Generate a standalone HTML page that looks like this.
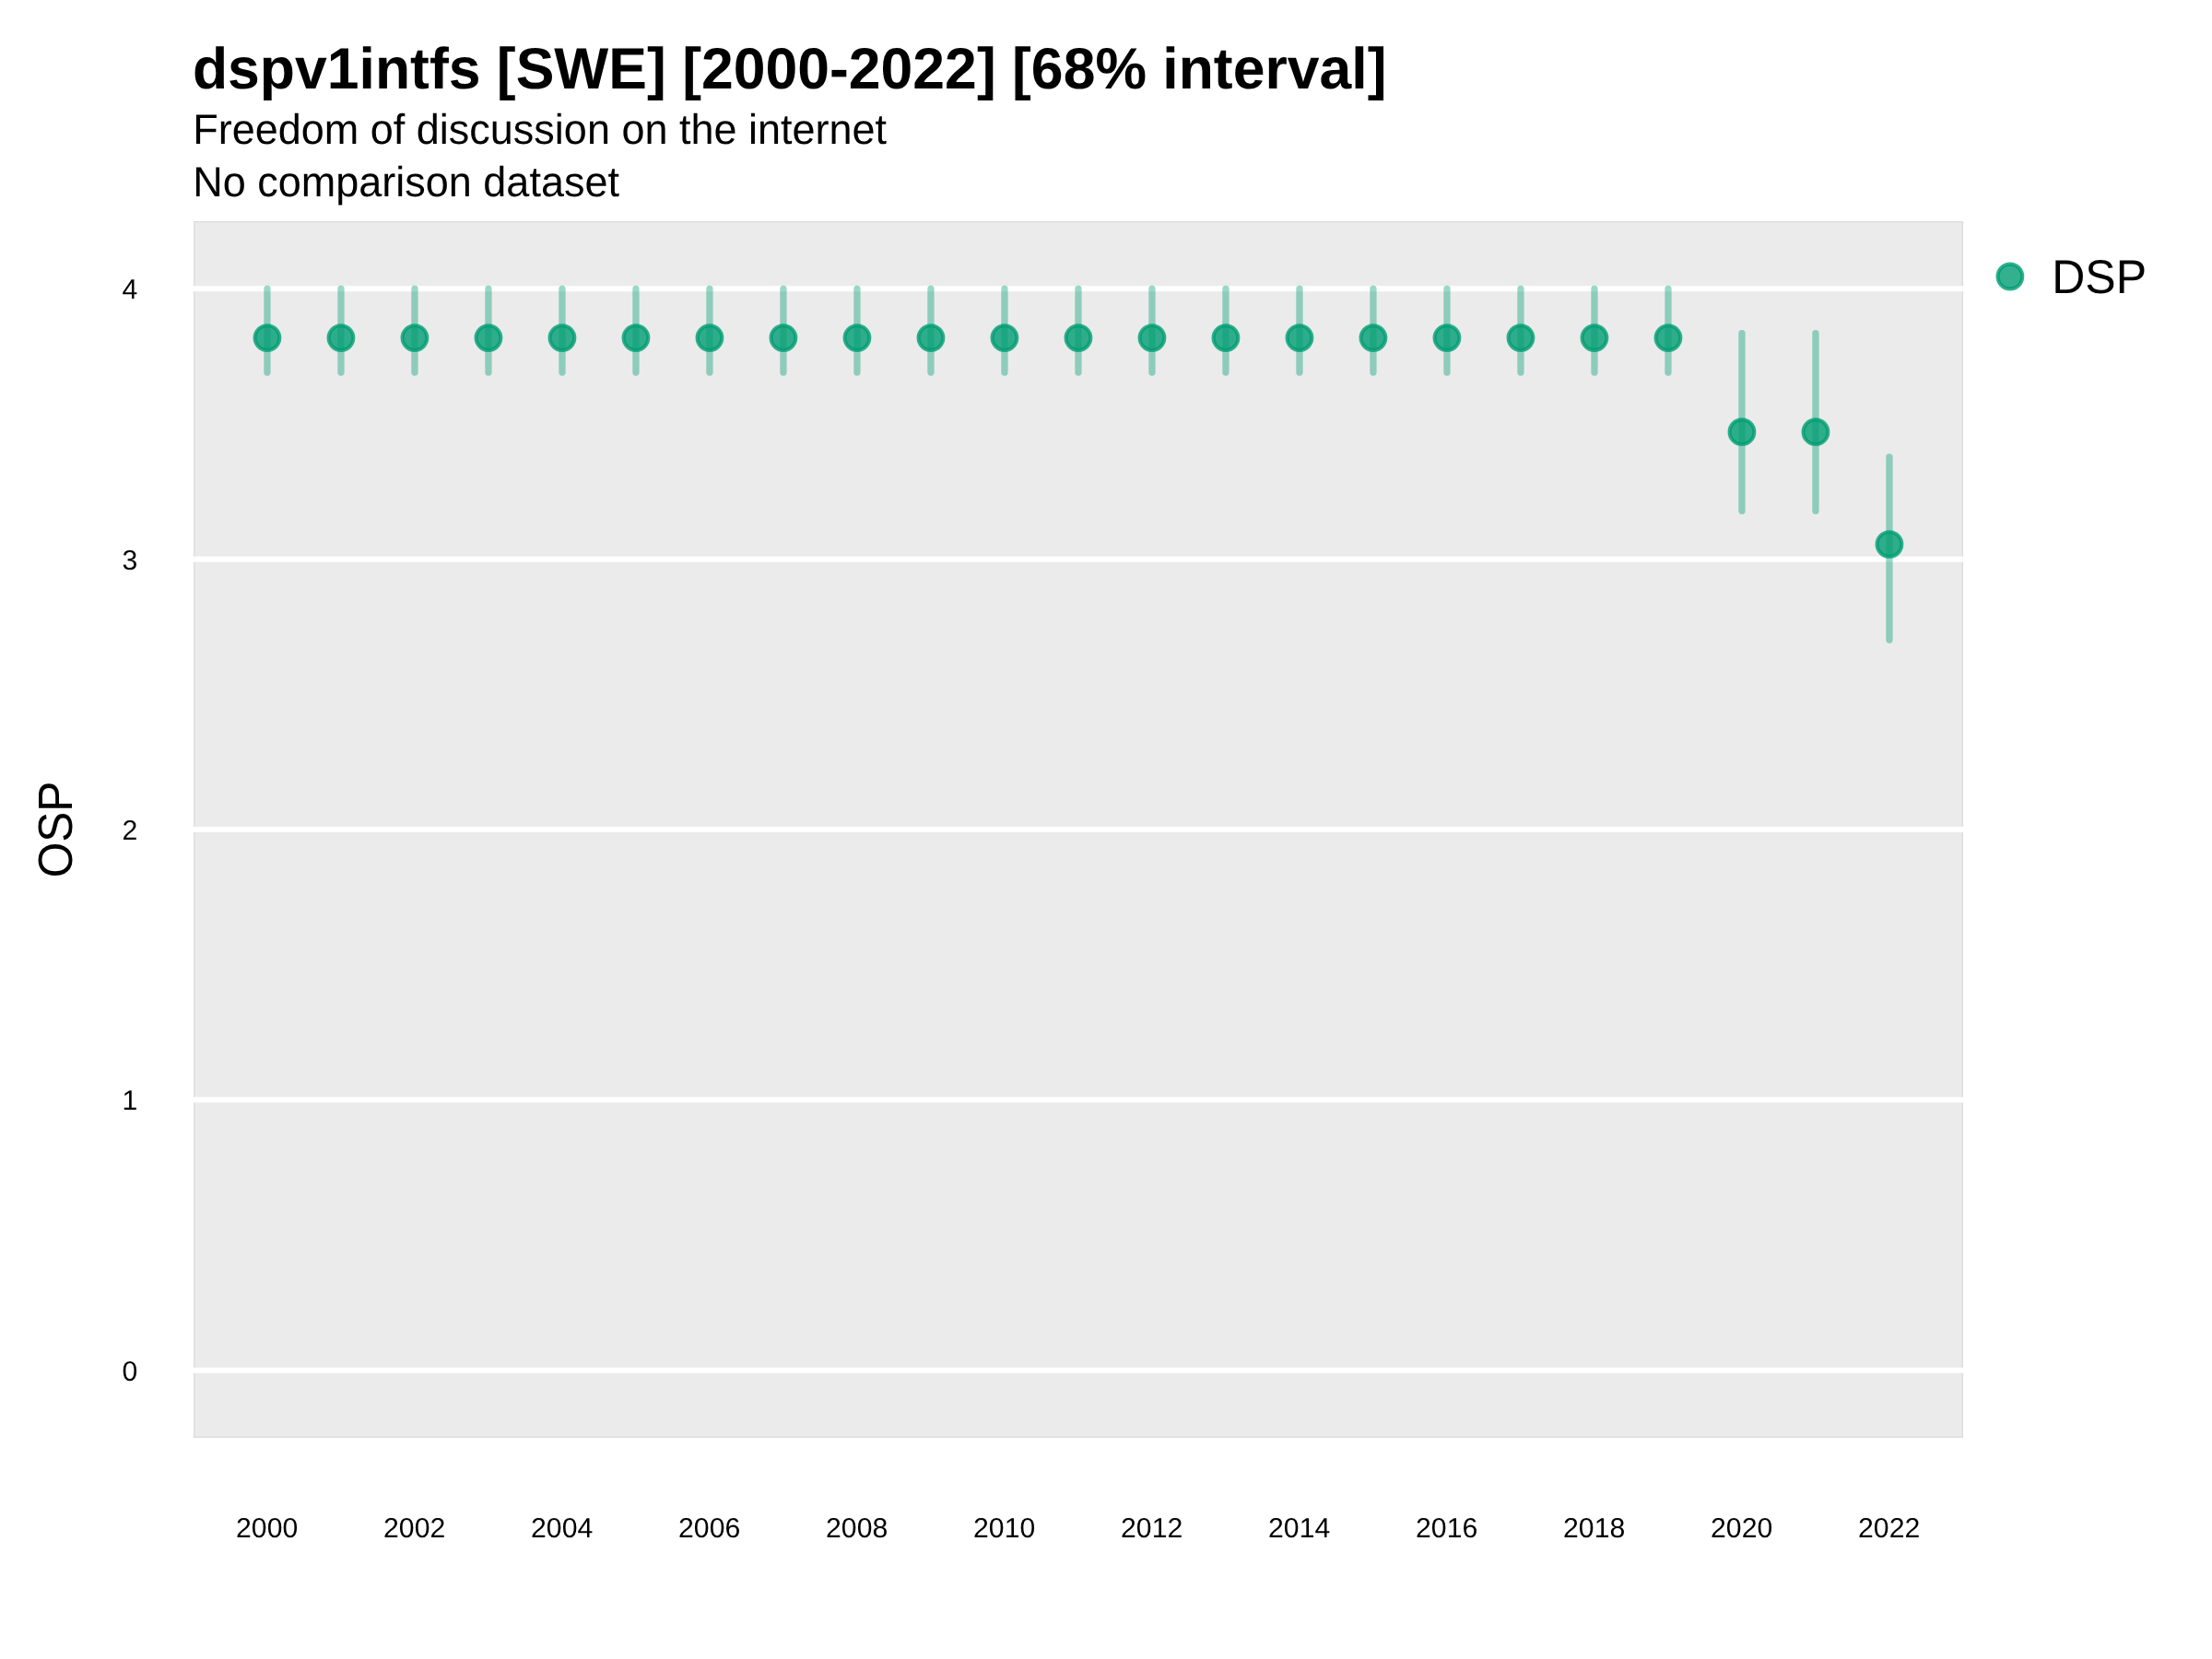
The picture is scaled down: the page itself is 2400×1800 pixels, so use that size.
<!DOCTYPE html>
<html><head><meta charset="utf-8"><style>
html,body{margin:0;padding:0;background:#fff;width:2400px;height:1800px;overflow:hidden}
svg{display:block;transform:translateZ(0)}
text{font-family:"Liberation Sans",sans-serif;fill:#000;text-rendering:geometricPrecision}
</style></head><body>
<svg width="2400" height="1800" viewBox="0 0 2400 1800">

<text transform="translate(208.9,95.8) scale(1,1.011)" style="font-weight:bold;font-size:62.5px">dspv1intfs [SWE] [2000-2022] [68% interval]</text>
<text transform="translate(209.2,156.1) scale(1,1.02)" style="font-size:45px">Freedom of discussion on the internet</text>
<text transform="translate(209.2,213.2) scale(1,1.02)" style="font-size:45px">No comparison dataset</text>
<rect x="210" y="240" width="1920" height="1320" fill="#EBEBEB"/>
<rect x="210.5" y="240.5" width="1919" height="1319" fill="none" stroke="#dcdcdc" stroke-width="1"/>
<rect x="211.5" y="241.5" width="1917" height="1317" fill="none" stroke="#e6e6e6" stroke-width="1"/>
<g stroke="#fff" stroke-width="6">
<line x1="210" y1="1486.67" x2="2130" y2="1486.67"/>
<line x1="210" y1="1193.33" x2="2130" y2="1193.33"/>
<line x1="210" y1="900.00" x2="2130" y2="900.00"/>
<line x1="210" y1="606.67" x2="2130" y2="606.67"/>
<line x1="210" y1="313.33" x2="2130" y2="313.33"/>
</g>
<g stroke="#009E73" stroke-opacity="0.4" stroke-width="7.3" stroke-linecap="round">
<line x1="289.95" y1="313.45" x2="289.95" y2="404.05"/>
<line x1="369.95" y1="313.45" x2="369.95" y2="404.05"/>
<line x1="449.95" y1="313.45" x2="449.95" y2="404.05"/>
<line x1="529.95" y1="313.45" x2="529.95" y2="404.05"/>
<line x1="609.95" y1="313.45" x2="609.95" y2="404.05"/>
<line x1="689.95" y1="313.45" x2="689.95" y2="404.05"/>
<line x1="769.95" y1="313.45" x2="769.95" y2="404.05"/>
<line x1="849.95" y1="313.45" x2="849.95" y2="404.05"/>
<line x1="929.95" y1="313.45" x2="929.95" y2="404.05"/>
<line x1="1009.95" y1="313.45" x2="1009.95" y2="404.05"/>
<line x1="1089.95" y1="313.45" x2="1089.95" y2="404.05"/>
<line x1="1169.95" y1="313.45" x2="1169.95" y2="404.05"/>
<line x1="1249.95" y1="313.45" x2="1249.95" y2="404.05"/>
<line x1="1329.95" y1="313.45" x2="1329.95" y2="404.05"/>
<line x1="1409.95" y1="313.45" x2="1409.95" y2="404.05"/>
<line x1="1489.95" y1="313.45" x2="1489.95" y2="404.05"/>
<line x1="1569.95" y1="313.45" x2="1569.95" y2="404.05"/>
<line x1="1649.95" y1="313.45" x2="1649.95" y2="404.05"/>
<line x1="1729.95" y1="313.45" x2="1729.95" y2="404.05"/>
<line x1="1809.95" y1="313.45" x2="1809.95" y2="404.05"/>
<line x1="1889.95" y1="361.55" x2="1889.95" y2="554.35"/>
<line x1="1969.95" y1="361.55" x2="1969.95" y2="554.35"/>
<line x1="2049.95" y1="495.95" x2="2049.95" y2="694.25"/>
</g>
<g fill="#009E73" fill-opacity="0.8" stroke="#009E73" stroke-opacity="0.8" stroke-width="4.1">
<circle cx="289.95" cy="366.6" r="13.35"/>
<circle cx="369.95" cy="366.6" r="13.35"/>
<circle cx="449.95" cy="366.6" r="13.35"/>
<circle cx="529.95" cy="366.6" r="13.35"/>
<circle cx="609.95" cy="366.6" r="13.35"/>
<circle cx="689.95" cy="366.6" r="13.35"/>
<circle cx="769.95" cy="366.6" r="13.35"/>
<circle cx="849.95" cy="366.6" r="13.35"/>
<circle cx="929.95" cy="366.6" r="13.35"/>
<circle cx="1009.95" cy="366.6" r="13.35"/>
<circle cx="1089.95" cy="366.6" r="13.35"/>
<circle cx="1169.95" cy="366.6" r="13.35"/>
<circle cx="1249.95" cy="366.6" r="13.35"/>
<circle cx="1329.95" cy="366.6" r="13.35"/>
<circle cx="1409.95" cy="366.6" r="13.35"/>
<circle cx="1489.95" cy="366.6" r="13.35"/>
<circle cx="1569.95" cy="366.6" r="13.35"/>
<circle cx="1649.95" cy="366.6" r="13.35"/>
<circle cx="1729.95" cy="366.6" r="13.35"/>
<circle cx="1809.95" cy="366.6" r="13.35"/>
<circle cx="1889.95" cy="468.7" r="13.35"/>
<circle cx="1969.95" cy="468.7" r="13.35"/>
<circle cx="2049.95" cy="590.6" r="13.35"/>
</g>
<g style="font-size:30.2px" text-anchor="end">
<text x="149.3" y="1497.57">0</text>
<text x="149.3" y="1204.23">1</text>
<text x="149.3" y="910.90">2</text>
<text x="149.3" y="617.57">3</text>
<text x="149.3" y="324.23">4</text>
</g>
<g style="font-size:30.2px" text-anchor="middle">
<text x="289.65" y="1668">2000</text>
<text x="449.65" y="1668">2002</text>
<text x="609.6500000000001" y="1668">2004</text>
<text x="769.6500000000001" y="1668">2006</text>
<text x="929.6500000000001" y="1668">2008</text>
<text x="1089.65" y="1668">2010</text>
<text x="1249.65" y="1668">2012</text>
<text x="1409.65" y="1668">2014</text>
<text x="1569.65" y="1668">2016</text>
<text x="1729.65" y="1668">2018</text>
<text x="1889.65" y="1668">2020</text>
<text x="2049.6499999999996" y="1668">2022</text>
</g>
<text transform="translate(78.2,900) rotate(-90) scale(0.99,1.045)" text-anchor="middle" style="font-size:50px">OSP</text>
<circle cx="2180.9" cy="300" r="13.35" fill="#009E73" fill-opacity="0.8" stroke="#009E73" stroke-opacity="0.8" stroke-width="4.1"/>
<text transform="translate(2226.2,317.9) scale(1,1.03)" style="font-size:50px">DSP</text>
</svg>
</body></html>
